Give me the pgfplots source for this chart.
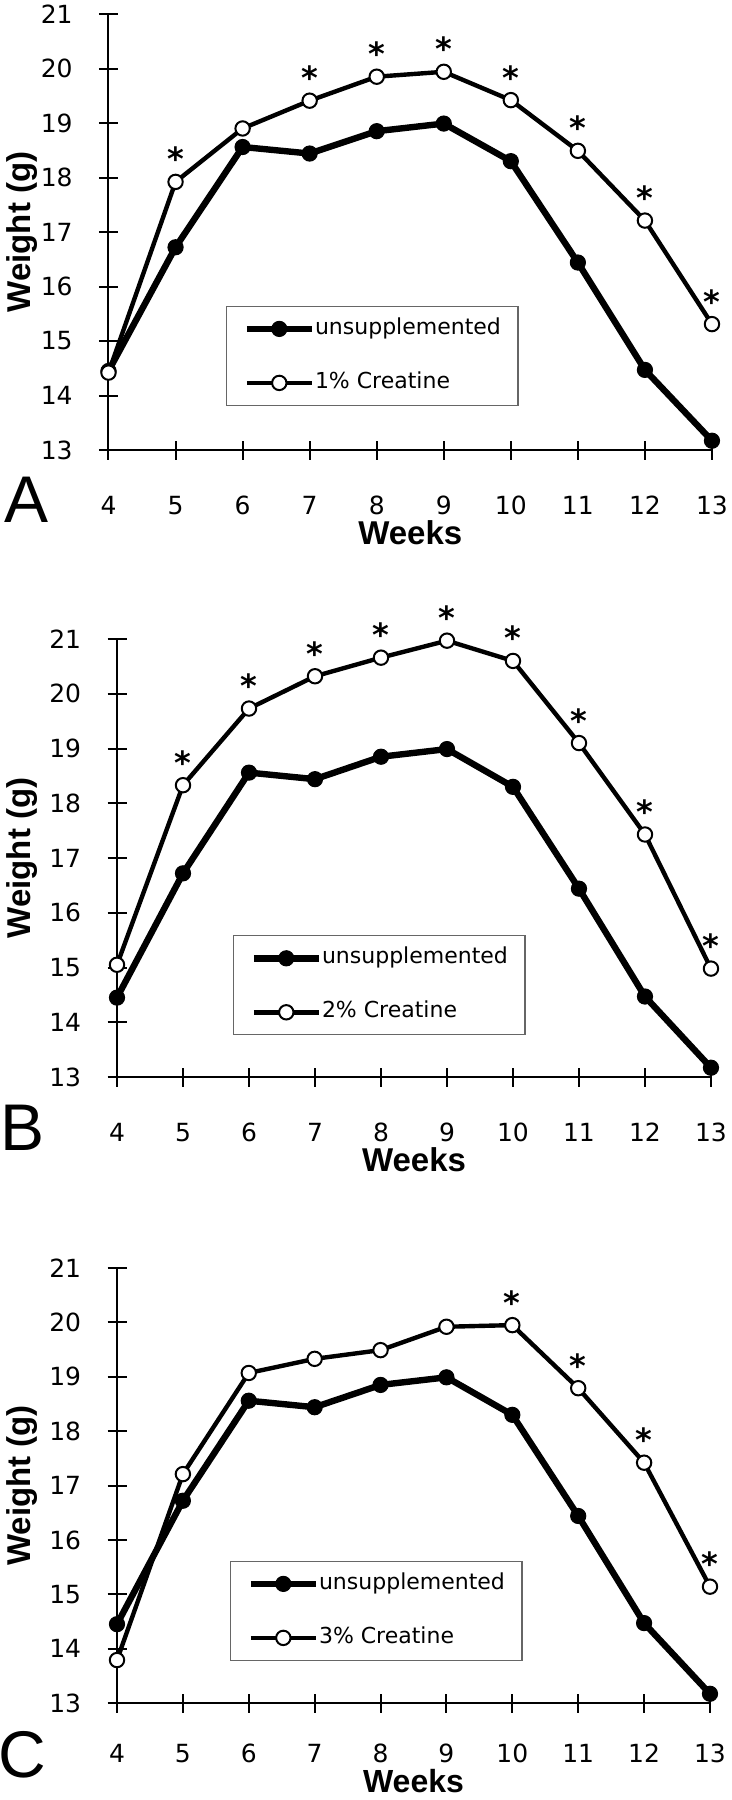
\documentclass[border=0pt]{standalone}
\usepackage{fontspec}
\setmainfont{DejaVu Sans}
\newfontfamily\labfont{Liberation Sans}
\usepackage{pgfplots}
\usepackage{pgfplotstable}
\pgfplotsset{compat=1.18}

% body weight (g) by week of age
\pgfplotstableread{
w   g
4   14.45
5   16.72
6   18.56
7   18.44
8   18.85
9   18.99
10  18.30
11  16.44
12  14.47
13  13.17
}\unsupp
\pgfplotstableread{
w   g
4   14.42
5   17.92
6   18.90
7   19.41
8   19.85
9   19.94
10  19.42
11  18.49
12  17.21
13  15.31
}\crOne
\pgfplotstableread{
w   g
4   15.05
5   18.33
6   19.73
7   20.32
8   20.66
9   20.97
10  20.60
11  19.10
12  17.43
13  14.98
}\crTwo
\pgfplotstableread{
w   g
4   13.79
5   17.21
6   19.07
7   19.33
8   19.49
9   19.92
10  19.95
11  18.79
12  17.42
13  15.14
}\crThree

\pgfplotsset{
  panel/.style={
    scale only axis, clip=false,
    xmin=4, xmax=13, ymin=13, ymax=21,
    xtick={4,...,13}, ytick={13,...,21},
    axis lines=left, axis line style={-, line width=1pt},
    tick style={line width=1pt, black}, tick align=center,
    major tick length=9.5pt,
    /pgf/number format/assume math mode=true,
    ticklabel style={font=\fontsize{12.5}{14}\selectfont},
    xticklabel style={anchor=center, inner sep=0pt, yshift=-23pt},
    yticklabel style={anchor=east, inner sep=0pt, xshift=-13pt},
    xlabel={Weeks}, ylabel={Weight (g)},
    label style={font=\labfont\bfseries\fontsize{16.5}{18}\selectfont},
    xlabel style={at={(axis description cs:0.5,-0.216)}, anchor=base},
    legend cell align=left,
    legend image code/.code={\draw[mark repeat=2, mark phase=2] plot coordinates {(0pt,0pt) (16.25pt,0pt) (32.5pt,0pt)};},
    legend style={anchor=south west, draw=black!60, line width=0.6pt,
      inner xsep=8.5pt, inner ysep=6pt, row sep=16.5pt,
      font=\fontsize{11}{13}\selectfont,
      nodes={inner sep=0pt, text height=8pt, text depth=2.5pt},
      /tikz/every even column/.append style={column sep=2.5pt}},
  },
  ctrl/.style={black, line width=3.2pt, mark=*, mark size=3.8pt, mark options={fill=black, line width=0.5pt}},
  crea/.style={black, line width=2.2pt, mark=*, mark size=3.6pt, mark options={fill=white, line width=1pt}},
  stars/.style={only marks, mark=none, forget plot,
    nodes near coords={\fontsize{16}{16}\selectfont\bfseries *},
    every node near coord/.append style={anchor=base, inner sep=0pt, yshift=5.5pt}},
}

\begin{document}
\begin{tikzpicture}
% A
\begin{axis}[panel, at={(54.25pt,-225pt)}, anchor=south west, width=301.75pt, height=218pt,
  ylabel style={at={(axis description cs:-0.1433,0.5)}, anchor=center},
  legend style={at={(0.1947,0.1009)}}]
  \addplot[ctrl] table[x=w, y=g] {\unsupp};
  \addplot[crea] table[x=w, y=g] {\crOne};
  \addplot[stars] coordinates {(5,17.92) (7,19.41) (8,19.85) (9,19.94) (10,19.42) (11,18.49) (12,17.21) (13,15.31)};
  \legend{unsupplemented, 1\% Creatine}
\end{axis}
% B
\begin{axis}[panel, at={(58.5pt,-538.5pt)}, anchor=south west, width=297pt, height=219pt,
  ylabel style={at={(axis description cs:-0.16,0.5)}, anchor=center},
  legend style={at={(0.1953,0.095)}}]
  \addplot[ctrl] table[x=w, y=g] {\unsupp};
  \addplot[crea] table[x=w, y=g] {\crTwo};
  \addplot[stars] coordinates {(5,18.33) (6,19.73) (7,20.32) (8,20.66) (9,20.97) (10,20.60) (11,19.10) (12,17.43) (13,14.98)};
  \legend{unsupplemented, 2\% Creatine}
\end{axis}
% C
\begin{axis}[panel, at={(58.5pt,-851.5pt)}, anchor=south west, width=296.5pt, height=217.5pt,
  ylabel style={at={(axis description cs:-0.16,0.5)}, anchor=center},
  xticklabel style={yshift=2.5pt},
  xlabel style={at={(axis description cs:0.5,-0.206)}, font=\labfont\bfseries\fontsize{16}{18}\selectfont},
  legend style={at={(0.1906,0.0966)}}]
  \addplot[ctrl] table[x=w, y=g] {\unsupp};
  \addplot[crea] table[x=w, y=g] {\crThree};
  \addplot[stars] coordinates {(10,19.95) (11,18.79) (12,17.42) (13,15.14)};
  \legend{unsupplemented, 3\% Creatine}
\end{axis}
\node[font=\labfont\fontsize{33}{33}\selectfont] at (13.5pt,-250pt) {A};
\node[font=\labfont\fontsize{33}{33}\selectfont] at (11.5pt,-564pt) {B};
\node[font=\labfont\fontsize{33}{33}\selectfont] at (11pt,-877.5pt) {C};
\pgfresetboundingbox
\path (0,0) rectangle (366pt,-900pt);
\end{tikzpicture}
\end{document}
